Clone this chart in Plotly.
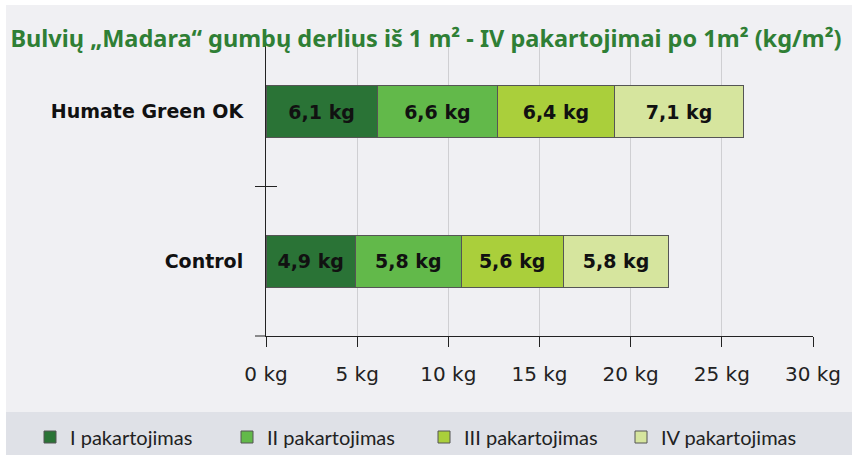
import plotly.graph_objects as go

# data
groups = ["Control", "Humate Green OK"]
series = ["I pakartojimas", "II pakartojimas", "III pakartojimas", "IV pakartojimas"]
values = [
    [4.9, 6.1],   # I
    [5.8, 6.6],   # II
    [5.6, 6.4],   # III
    [5.8, 7.1],   # IV
]
colors = ["#2a7336", "#62b94a", "#aacf3b", "#d6e59e"]
x_ticks = [0, 5, 10, 15, 20, 25, 30]

W, H = 852, 455
L, R, T, B = 266, 39, 43, 119
pw, ph = W - L - R, H - T - B


def px_x(p):
    return (p - L) / pw


def px_y(p):
    return (H - B - p) / ph


fig = go.Figure()
for name, vals, col in zip(series, values, colors):
    fig.add_trace(go.Bar(
        y=groups, x=vals, name=name, orientation="h",
        marker=dict(color=col, line=dict(color="#555555", width=1)),
        text=[f"{v:.1f} kg".replace(".", ",") for v in vals],
        textposition="inside", insidetextanchor="middle",
        textfont=dict(family="DejaVu Sans", size=19, color="#111111", weight="bold"),
        width=0.35,
    ))

shapes = [
    # light panel
    dict(type="rect", xref="paper", yref="paper", layer="below",
         x0=px_x(6), x1=px_x(W + 2), y0=px_y(412), y1=px_y(5),
         fillcolor="#f0f0f3", line=dict(width=0)),
    # legend band
    dict(type="rect", xref="paper", yref="paper", layer="below",
         x0=px_x(6), x1=px_x(W + 2), y0=px_y(H + 2), y1=px_y(412),
         fillcolor="#dfe1e7", line=dict(width=0)),
    # cross tick between categories
    dict(type="line", xref="paper", yref="y", x0=px_x(255), x1=px_x(277),
         y0=0.5, y1=0.5, line=dict(color="#222222", width=1)),
    # axis line extension left of zero
    dict(type="line", xref="paper", yref="paper", x0=px_x(255), x1=0,
         y0=0, y1=0, line=dict(color="#222222", width=1)),
]

fig.update_layout(
    width=W, height=H,
    margin=dict(l=L, r=R, t=T, b=B, autoexpand=False),
    barmode="stack",
    paper_bgcolor="white",
    plot_bgcolor="rgba(0,0,0,0)",
    shapes=shapes,
    title=dict(
        text="Bulvių „Madara“ gumbų derlius iš 1 m² - IV pakartojimai po 1m² (kg/m²)",
        x=426 / W, xref="container", xanchor="center",
        y=1 - 39 / H, yref="container", yanchor="middle",
        font=dict(family="Noto Sans", size=23.5, color="#2f7f35", weight="bold"),
    ),
    xaxis=dict(
        range=[0, 30], tickvals=x_ticks, ticktext=[f"{v} kg" for v in x_ticks],
        showgrid=True, gridcolor="#cfcfd2", gridwidth=1,
        showline=True, linecolor="#222222", linewidth=1,
        ticks="outside", ticklen=10, tickcolor="#222222",
        ticklabelstandoff=10,
        tickfont=dict(family="DejaVu Sans", size=20, color="#222222"),
        zeroline=False, fixedrange=True,
    ),
    yaxis=dict(
        range=[-0.5, 1.46], categoryorder="array", categoryarray=groups,
        showgrid=False, showline=True, linecolor="#222222", linewidth=1,
        ticks="", ticklabelstandoff=18,
        tickfont=dict(family="DejaVu Sans", size=19, color="#111111", weight="bold"),
        zeroline=False, fixedrange=True,
    ),
    legend=dict(
        orientation="h", xref="paper", yref="paper",
        x=px_x(30), xanchor="left", y=px_y(437), yanchor="middle",
        bgcolor="rgba(0,0,0,0)", traceorder="normal",
        entrywidth=152, entrywidthmode="pixels",
        font=dict(family="Lato", size=20, color="#222222"),
    ),
    showlegend=True,
)

# drop the default page margin so the figure sits at the window's corner
fig.write_html(
    "out.html",
    config={"displayModeBar": False},
    post_script="document.body.style.margin='0';document.documentElement.style.overflow='hidden';",
)
